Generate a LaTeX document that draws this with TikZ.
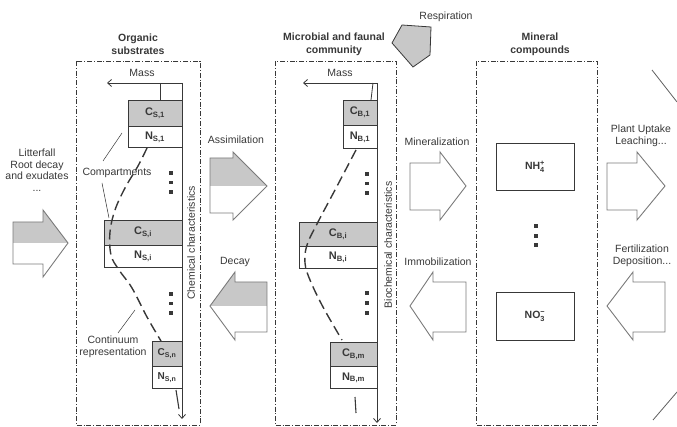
\documentclass[tikz,border=0pt]{standalone}
\usepackage{fontspec}
\usepackage{amsmath}
\setmainfont{Liberation Sans}
\usetikzlibrary{arrows.meta}
\definecolor{lg}{HTML}{C8C8C8}
\definecolor{ink}{HTML}{383838}
\definecolor{arr}{HTML}{7A7A7A}
\newcommand\WhiteArr[8]{\draw[bigarr] (#1,#4) -- (#2,#4) -- (#2,#6) -- (#3,#8) -- (#2,#7) -- (#2,#5) -- (#1,#5) -- cycle;}
\newcommand\GrayArr[8]{%
  \begin{scope}
    \clip (#1,#4) -- (#2,#4) -- (#2,#6) -- (#3,#8) -- (#2,#7) -- (#2,#5) -- (#1,#5) -- cycle;
    \fill[lg] (#1,#6) rectangle (#3,#8);
  \end{scope}
  \draw[bigarr] (#1,#4) -- (#2,#4) -- (#2,#6) -- (#3,#8) -- (#2,#7) -- (#2,#5) -- (#1,#5) -- cycle;}
\begin{document}
\begin{tikzpicture}[x=1pt,y=-1pt,
  dashbox/.style={draw=ink, line width=0.6pt, dash pattern=on 5pt off 1.8pt on 1pt off 1.8pt},
  ttl/.style={font=\bfseries\fontsize{10.5}{13}\selectfont, align=center, text=ink, inner sep=0},
  lbl/.style={font=\fontsize{10.5}{12}\selectfont, align=center, text=ink, inner sep=0},
  cpart/.style={draw=ink, fill=lg, line width=0.7pt, inner sep=0, font=\bfseries\fontsize{11}{12}\selectfont, text=ink},
  npart/.style={draw=ink, fill=white, line width=0.7pt, inner sep=0, font=\bfseries\fontsize{11}{12}\selectfont, text=ink},
  massline/.style={draw=ink, line width=0.8pt},
  tipb/.style={-{Straight Barb[length=4pt,width=7pt]}},
  dcurve/.style={draw=ink, line width=1.4pt, dash pattern=on 10pt off 5pt},
  thin/.style={draw=ink, line width=0.5pt},
  bigarr/.style={draw=arr, line width=0.9pt, line join=miter},
  dotn/.style={fill=ink, rectangle, minimum size=3.6pt, inner sep=0},
  mbox/.style={draw=ink, line width=0.8pt, inner sep=0, minimum width=78pt, minimum height=47pt, font=\bfseries\fontsize{10.5}{12}\selectfont, text=ink}
]
\useasboundingbox (0,0) rectangle (677,427);

% ---------- frames ----------
\draw[dashbox] (76,61) rectangle (200,425);
\draw[dashbox] (275,61) rectangle (396,425);
\draw[dashbox] (476,61) rectangle (597,425);

% ---------- titles ----------
\node[ttl] (t1) at (138,44.5) {Organic\\substrates};
\node[ttl] (t2) at (334,44.5) {Microbial and faunal\\community};
\node[ttl] (t3) at (540,44.5) {Mineral\\compounds};

% ---------- respiration ----------
\draw[draw=ink, fill=lg, line width=0.8pt, line join=miter]
  (402,25) -- (431,27) -- (430,55) -- (413,67) -- (392,43) -- cycle;
\node[lbl] (resp) at (446,17) {Respiration};

% ---------- organic substrates column ----------
\coordinate (topS) at (182,83);
\coordinate (massS) at (107,83);
\coordinate (botS) at (182,419);
\draw[massline,tipb] (topS) -- (massS);
\draw[massline,tipb] (topS) -- (botS);
\node[lbl] (massSt) at (142,73) {Mass};

\node[cpart, minimum width=54pt, minimum height=26pt] (cs1) at (155,113) {C\textsubscript{S,1}};
\node[npart, minimum width=54pt, minimum height=21pt, anchor=north] (ns1) at (cs1.south) {N\textsubscript{S,1}};
\draw[massline] (160,83) -- (160,100);

\node[cpart, minimum width=78pt, minimum height=25pt] (csi) at (143,232.5) {C\textsubscript{S,i}};
\node[npart, minimum width=78pt, minimum height=22pt, anchor=north] (nsi) at (csi.south) {N\textsubscript{S,i}};

\node[cpart, minimum width=30pt, minimum height=25pt, font=\bfseries\fontsize{10}{12}\selectfont] (csn) at (167,353.5) {C\textsubscript{S,n}};
\node[npart, minimum width=30pt, minimum height=22pt, anchor=north, font=\bfseries\fontsize{10}{12}\selectfont] (nsn) at (csn.south) {N\textsubscript{S,n}};
\draw[draw=ink, line width=1.1pt] (176,390) -- (179,409);

\draw[dcurve] plot[smooth, tension=0.6] coordinates {(147,148) (138,166) (125,188) (115,210) (110,232) (111,255) (119,270) (132,288) (147,317) (161,341)};

\foreach \i/\y in {1/173,2/182.5,3/192,4/294,5/303.5,6/313} \node[dotn] (dS\i) at (171,\y) {};

\node[lbl] (comp) at (117,173) {Compartments};
\draw[thin] (103,161) -- (122,133);
\draw[thin] (102,183) -- (109,218);
\node[lbl, align=center] (cont) at (113,347) {Continuum\\representation};
\draw[thin] (118,333) -- (135,310);
\node[lbl, rotate=90] (chem) at (191,243) {Chemical characteristics};

% ---------- microbial column ----------
\coordinate (topB) at (377,83);
\coordinate (massB) at (303,83);
\coordinate (botB) at (377,423);
\draw[massline,tipb] (topB) -- (massB);
\draw[massline,tipb] (topB) -- (botB);
\node[lbl] (massBt) at (340,73) {Mass};

\node[cpart, minimum width=34pt, minimum height=25pt] (cb1) at (360,112.5) {C\textsubscript{B,1}};
\node[npart, minimum width=34pt, minimum height=23pt, anchor=north] (nb1) at (cb1.south) {N\textsubscript{B,1}};
\draw[massline] (373,83) -- (371,100);

\node[cpart, minimum width=78pt, minimum height=24pt] (cbi) at (338,234) {C\textsubscript{B,i}};
\node[npart, minimum width=78pt, minimum height=22pt, anchor=north] (nbi) at (cbi.south) {N\textsubscript{B,i}};

\node[cpart, minimum width=47pt, minimum height=24pt] (cbm) at (353.5,354) {C\textsubscript{B,m}};
\node[npart, minimum width=47pt, minimum height=22pt, anchor=north] (nbm) at (cbm.south) {N\textsubscript{B,m}};
\draw[draw=ink, line width=1.1pt] (355,397) -- (356,413);

\draw[dcurve] plot[smooth, tension=0.6] coordinates {(356,150) (335,190) (318,222) (307,245) (305,263) (310,280) (323,307) (342,340)};

\foreach \i/\y in {1/174,2/183.5,3/193,4/293,5/303,6/313} \node[dotn] (dB\i) at (367,\y) {};
\node[lbl, rotate=90] (biochem) at (388,245) {Biochemical characteristics};

% ---------- mineral compounds ----------
\node[mbox] (nh4) at (535,166.5) {NH$_{\text{4}}^{\text{+}}$};
\node[mbox, minimum height=48pt] (no3) at (535,316) {NO$_{\text{3}}^{\text{−}}$};
\foreach \i/\y in {1/226,2/236,3/245} \node[dotn] (dM\i) at (536,\y) {};

% ---------- big arrows ----------
% args: body-start x, head x, tip x, body top, body bottom, head top, head bottom, centre y
\GrayArr{13}{43}{68}{222}{264}{210}{277}{243}
\node[lbl, font=\fontsize{10.5}{11.5}\selectfont] (litter) at (37,170) {Litterfall\\Root decay\\and exudates\\...};

\GrayArr{210}{233}{267}{158}{213}{152}{220}{186}
\node[lbl] (assim) at (236,140) {Assimilation};
\GrayArr{267}{235}{210}{282}{332}{272}{340}{306}
\node[lbl] (decay) at (235,262) {Decay};

\WhiteArr{410}{440}{466}{163}{210}{152}{220}{186}
\node[lbl] (miner) at (437,142) {Mineralization};
\WhiteArr{466}{433}{410}{282}{332}{272}{340}{306}
\node[lbl] (immob) at (438,262) {Immobilization};

\WhiteArr{607}{637}{665}{163}{210}{152}{220}{186}
\node[lbl] (plant) at (641,136) {Plant Uptake\\Leaching...};
\WhiteArr{665}{633}{607}{282}{332}{272}{340}{306}
\node[lbl] (fert) at (642,255.5) {Fertilization\\Deposition...};

% ---------- right-hand edge lines ----------
\coordinate (r1a) at (652,70);
\coordinate (r1b) at (677,102);
\coordinate (r2a) at (653,420);
\coordinate (r2b) at (677,392);
\draw[draw=ink!80, line width=0.8pt] (r1a) -- (r1b);
\draw[draw=ink!80, line width=0.8pt] (r2a) -- (r2b);
\end{tikzpicture}
\end{document}
